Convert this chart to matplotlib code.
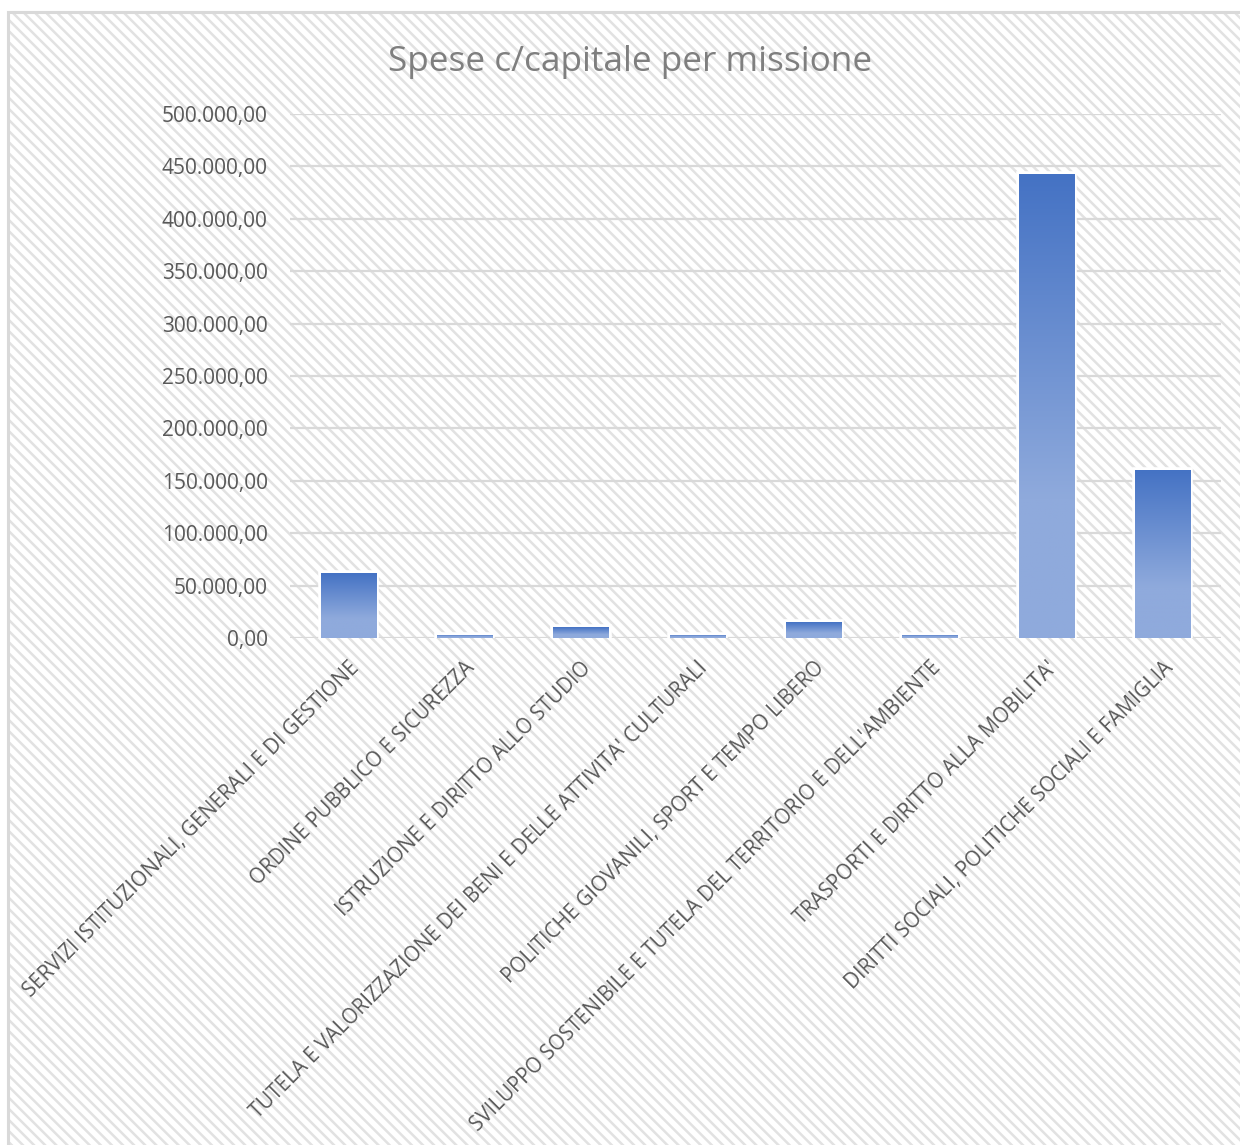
import numpy as np
import matplotlib
matplotlib.use("Agg")
import matplotlib.pyplot as plt
from matplotlib.patches import Rectangle
from matplotlib.colors import LinearSegmentedColormap
from matplotlib.ticker import FuncFormatter, MultipleLocator

# data
categories = [
    "SERVIZI ISTITUZIONALI, GENERALI E DI GESTIONE",
    "ORDINE PUBBLICO E SICUREZZA",
    "ISTRUZIONE E DIRITTO ALLO STUDIO",
    "TUTELA E VALORIZZAZIONE DEI BENI E DELLE ATTIVITA' CULTURALI",
    "POLITICHE GIOVANILI, SPORT E TEMPO LIBERO",
    "SVILUPPO SOSTENIBILE E TUTELA DEL TERRITORIO E DELL'AMBIENTE",
    "TRASPORTI E DIRITTO ALLA MOBILITA'",
    "DIRITTI SOCIALI, POLITICHE SOCIALI E FAMIGLIA",
]
values = [61800, 3200, 10300, 3200, 14800, 3200, 443000, 160500]
title = "Spese c/capitale per missione"

plt.rcParams['font.family'] = ['Open Sans', 'DejaVu Sans']
plt.rcParams['hatch.linewidth'] = 1.8

text_color = '#595959'
grid_color = '#d9d9d9'

fig = plt.figure(figsize=(12.4, 11.45), dpi=100, facecolor='white')

# hatched chart background with a light border (cropped at right/bottom)
bg = Rectangle((8 / 1240, -0.2), 1.2, 1 - 12 / 1145 + 0.2, transform=fig.transFigure,
               facecolor='white', edgecolor='#e2e2e2', linewidth=0, hatch='\\\\\\',
               zorder=-3)
fig.patches.append(bg)
frame = Rectangle((8 / 1240, -0.2), 1.2, 1 - 12 / 1145 + 0.2, transform=fig.transFigure,
                  facecolor='none', edgecolor=grid_color, linewidth=2.2, zorder=-2)
fig.patches.append(frame)

ax = fig.add_axes([290 / 1240, 1 - 638 / 1145, (1221 - 290) / 1240, (638 - 114) / 1145])
ax.patch.set_alpha(0)

x = np.arange(len(categories))
width = 0.475
# white outline sits behind the gradient fill, so only its outer half shows
bars = ax.bar(x, values, width=width, facecolor='white', edgecolor='white',
              linewidth=4, zorder=1.5)

# vertical gradient inside each bar
cmap = LinearSegmentedColormap.from_list(
    'grad', [(0, '#8FAADC'), (0.3, '#8FAADC'), (1, '#4472C4')])
grad = np.linspace(0, 1, 256).reshape(-1, 1)
for b in bars:
    x0 = b.get_x()
    h = b.get_height()
    im = ax.imshow(grad, cmap=cmap, aspect='auto', origin='lower',
                   extent=[x0, x0 + b.get_width(), 0, h], zorder=2)
    im.set_clip_path(b)

ax.set_xlim(-0.5, len(categories) - 0.5)
ax.set_ylim(0, 500000)
ax.yaxis.set_major_locator(MultipleLocator(50000))


def eur(v, pos):
    s = f"{v:,.2f}"
    return s.replace(',', 'X').replace('.', ',').replace('X', '.')


ax.yaxis.set_major_formatter(FuncFormatter(eur))
ax.grid(axis='y', color=grid_color, linewidth=1.6, zorder=1)
ax.set_axisbelow(True)
for s in ax.spines.values():
    s.set_visible(False)
ax.tick_params(axis='y', length=0, pad=16, labelsize=15, labelcolor=text_color)
ax.tick_params(axis='x', length=0, pad=14, labelsize=14.8, labelcolor=text_color)
ax.set_xticks(x)
ax.set_xticklabels(categories, rotation=45, ha='right', va='top', rotation_mode='anchor')

fig.text(630 / 1240, 1 - 62 / 1145, title, ha='center', va='center',
         fontsize=25.3, color='#7f7f7f')

fig.savefig('out.png', dpi=100, facecolor='white')
